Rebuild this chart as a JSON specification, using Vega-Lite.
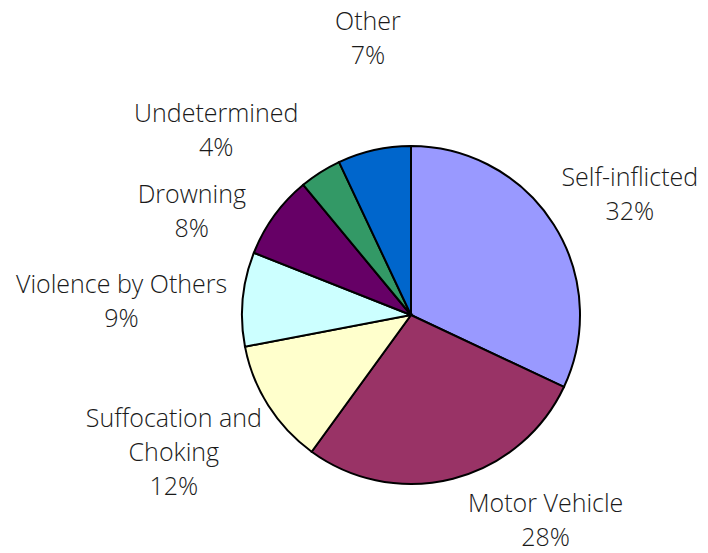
{
  "$schema": "https://vega.github.io/schema/vega-lite/v6.json",
  "width": 338,
  "height": 338,
  "autosize": {"type": "none"},
  "padding": {"left": 242, "top": 146, "right": 128, "bottom": 69},
  "background": "white",
  "view": {"stroke": null},
  "config": {
    "text": {"font": "Open Sans", "fontWeight": 300, "fontSize": 25, "lineHeight": 34, "align": "center", "baseline": "middle", "color": "#1a1a1a"}
  },
  "data": {
    "values": [
      {"category": "Self-inflicted", "label": "Self-inflicted", "percent": 32, "order": 1},
      {"category": "Motor Vehicle", "label": "Motor Vehicle", "percent": 28, "order": 2},
      {"category": "Suffocation and Choking", "label": "Suffocation and|Choking", "percent": 12, "order": 3},
      {"category": "Violence by Others", "label": "Violence by Others", "percent": 9, "order": 4},
      {"category": "Drowning", "label": "Drowning", "percent": 8, "order": 5},
      {"category": "Undetermined", "label": "Undetermined", "percent": 4, "order": 6},
      {"category": "Other", "label": "Other", "percent": 7, "order": 7}
    ]
  },
  "transform": [
    {"calculate": "split(datum.label + '|' + datum.percent + '%', '|')", "as": "text"}
  ],
  "encoding": {
    "theta": {"field": "percent", "type": "quantitative", "stack": true},
    "order": {"field": "order", "type": "quantitative"}
  },
  "layer": [
    {
      "mark": {"type": "arc", "outerRadius": 169, "stroke": "black", "strokeWidth": 2},
      "encoding": {
        "color": {
          "field": "category",
          "type": "nominal",
          "scale": {
            "domain": ["Self-inflicted", "Motor Vehicle", "Suffocation and Choking", "Violence by Others", "Drowning", "Undetermined", "Other"],
            "range": ["#9999FF", "#993366", "#FFFFCC", "#CCFFFF", "#660066", "#339966", "#0066CC"]
          },
          "legend": null
        }
      }
    },
    {
      "mark": {"type": "text", "radius": 258, "thetaOffset": 0.007},
      "encoding": {"text": {"condition": {"test": "datum.category != 'Self-inflicted'", "value": ""}, "field": "text", "type": "nominal"}}
    },
    {
      "mark": {"type": "text", "radius": 232, "thetaOffset": -0.368},
      "encoding": {"text": {"condition": {"test": "datum.category != 'Motor Vehicle'", "value": ""}, "field": "text", "type": "nominal"}}
    },
    {
      "mark": {"type": "text", "radius": 259, "thetaOffset": 0.152},
      "encoding": {"text": {"condition": {"test": "datum.category != 'Suffocation and Choking'", "value": ""}, "field": "text", "type": "nominal"}}
    },
    {
      "mark": {"type": "text", "radius": 291, "thetaOffset": 0.009},
      "encoding": {"text": {"condition": {"test": "datum.category != 'Violence by Others'", "value": ""}, "field": "text", "type": "nominal"}}
    },
    {
      "mark": {"type": "text", "radius": 250, "thetaOffset": -0.127},
      "encoding": {"text": {"condition": {"test": "datum.category != 'Drowning'", "value": ""}, "field": "text", "type": "nominal"}}
    },
    {
      "mark": {"type": "text", "radius": 280, "thetaOffset": -0.204},
      "encoding": {"text": {"condition": {"test": "datum.category != 'Undetermined'", "value": ""}, "field": "text", "type": "nominal"}}
    },
    {
      "mark": {"type": "text", "radius": 296, "thetaOffset": 0.074},
      "encoding": {"text": {"condition": {"test": "datum.category != 'Other'", "value": ""}, "field": "text", "type": "nominal"}}
    }
  ]
}
